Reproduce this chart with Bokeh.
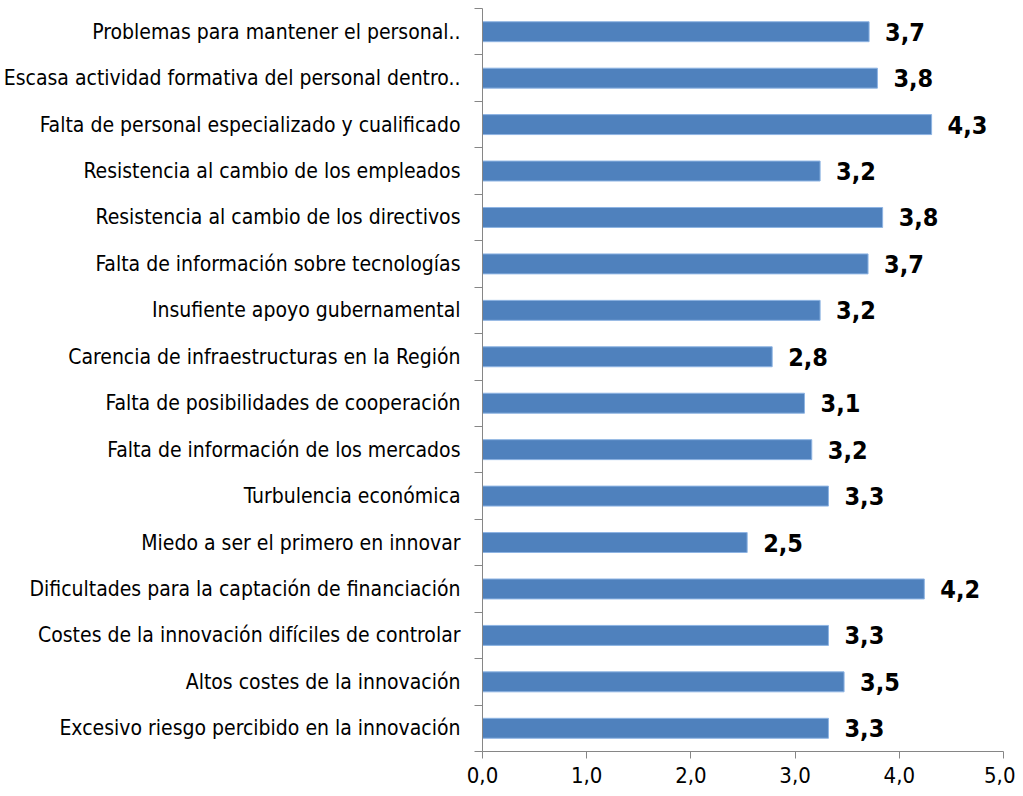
from bokeh.plotting import figure
from bokeh.models import Range1d, FixedTicker, ColumnDataSource
from bokeh.core.properties import value
from bokeh.embed import file_html
from bokeh.resources import INLINE

# Categories in display order (top to bottom)
categories = [
    "Problemas para mantener el personal..",
    "Escasa actividad formativa del personal dentro..",
    "Falta de personal especializado y cualificado",
    "Resistencia al cambio de los empleados",
    "Resistencia al cambio de los directivos",
    "Falta de información sobre tecnologías",
    "Insufiente apoyo gubernamental",
    "Carencia de infraestructuras en la Región",
    "Falta de posibilidades de cooperación",
    "Falta de información de los mercados",
    "Turbulencia económica",
    "Miedo a ser el primero en innovar",
    "Dificultades para la captación de financiación",
    "Costes de la innovación difíciles de controlar",
    "Altos costes de la innovación",
    "Excesivo riesgo percibido en la innovación",
]
values = [3.71, 3.79, 4.31, 3.24, 3.84, 3.70, 3.24, 2.78, 3.09, 3.16,
          3.32, 2.54, 4.24, 3.32, 3.47, 3.32]
value_labels = ["3,7", "3,8", "4,3", "3,2", "3,8", "3,7", "3,2", "2,8", "3,1", "3,2",
                "3,3", "2,5", "4,2", "3,3", "3,5", "3,3"]
x_ticks = [0, 1, 2, 3, 4, 5]
x_tick_labels = ["0,0", "1,0", "2,0", "3,0", "4,0", "5,0"]

n = len(categories)
ys = [n - 1 - i + 0.5 for i in range(n)]
src = ColumnDataSource(dict(y=ys, v=values, lab=value_labels, cat=categories))

FONT = "DejaVu Sans Condensed, Liberation Sans, sans-serif"

p = figure(width=1015, height=791, output_backend="svg", toolbar_location=None,
           x_range=Range1d(0, 5), y_range=Range1d(0, n),
           min_border_left=477, min_border_right=12, min_border_top=8, min_border_bottom=40)
p.outline_line_color = None
p.xgrid.visible = False
p.ygrid.visible = False

p.hbar(y="y", right="v", left=0, height=0.43, source=src,
       fill_color="#4F81BD", line_color="#8EB4E3", line_width=1)

p.text(x="v", y="y", text="lab", source=src, x_offset=16, y_offset=0,
       text_baseline="middle", text_align="left",
       text_font=value(FONT), text_font_style="bold", text_font_size="25px",
       text_color="black")

# x axis
xa = p.xaxis[0]
xa.ticker = FixedTicker(ticks=x_ticks)
xa.major_label_overrides = {t: l for t, l in zip(x_ticks, x_tick_labels)}
xa.axis_line_color = "#868686"
xa.major_tick_line_color = "#868686"
xa.major_tick_out = 7
xa.major_tick_in = 0
xa.minor_tick_line_color = None
xa.major_label_text_font = FONT
xa.major_label_text_font_size = "22px"
xa.major_label_text_color = "black"
xa.major_label_standoff = 8

# y axis
ya = p.yaxis[0]
ya.ticker = FixedTicker(ticks=ys, minor_ticks=list(range(n + 1)))
ya.major_label_overrides = {y: c for y, c in zip(ys, categories)}
ya.axis_line_color = "#868686"
ya.major_tick_line_color = None
ya.major_tick_out = 0
ya.major_tick_in = 0
ya.minor_tick_line_color = "#868686"
ya.minor_tick_out = 8
ya.minor_tick_in = 0
ya.major_label_text_font = FONT
ya.major_label_text_font_size = "21px"
ya.major_label_text_color = "black"
ya.major_label_standoff = 14

open("out.html", "w").write(file_html(p, INLINE))
